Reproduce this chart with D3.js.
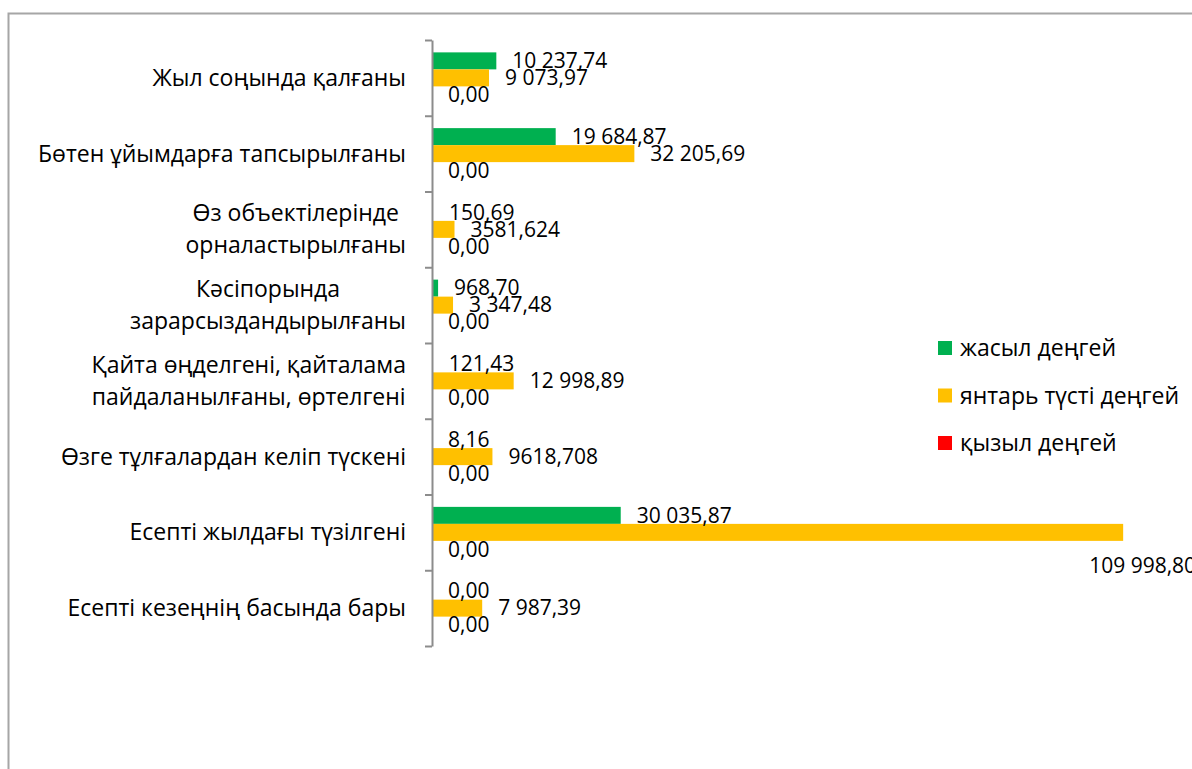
<!DOCTYPE html>
<html>
<head>
<meta charset="utf-8">
<script src="https://cdn.jsdelivr.net/npm/d3@7"></script>
<style>
  body { margin: 0; background: #fff; overflow: hidden; }
  text { font-family: "Open Sans", "Noto Sans", sans-serif; fill: #000; }
</style>
</head>
<body>
<svg id="chart" width="1192" height="769"></svg>
<script>
// categories, top to bottom as shown
var categories = [
  ["Жыл соңында қалғаны"],
  ["Бөтен ұйымдарға тапсырылғаны"],
  ["Өз объектілерінде", "орналастырылғаны"],
  ["Кәсіпорында", "зарарсыздандырылғаны"],
  ["Қайта өңделгені, қайталама", "пайдаланылғаны, өртелгені"],
  ["Өзге тұлғалардан келіп түскені"],
  ["Есепті жылдағы түзілгені"],
  ["Есепті кезеңнің басында бары"]
];
var seriesNames = ["жасыл деңгей", "янтарь түсті деңгей", "қызыл деңгей"];
var seriesColors = ["#00B050", "#FFC000", "#FF0000"];

var greenValues = [10237.74, 19684.87, 150.69, 968.70, 121.43, 8.16, 30035.87, 0];
var amberValues = [9073.97, 32205.69, 3581.624, 3347.48, 12998.89, 9618.708, 109998.80, 7987.39];
var redValues   = [0, 0, 0, 0, 0, 0, 0, 0];

var greenLabels = ["10 237,74", "19 684,87", "150,69", "968,70", "121,43", "8,16", "30 035,87", "0,00"];
var amberLabels = ["9 073,97", "32 205,69", "3581,624", "3 347,48", "12 998,89", "9618,708", "109 998,80", "7 987,39"];
var redLabels   = ["0,00", "0,00", "0,00", "0,00", "0,00", "0,00", "0,00", "0,00"];

var values = [greenValues, amberValues, redValues];
var labels = [greenLabels, amberLabels, redLabels];

var W = 1192, H = 769;
var svg = d3.select("#chart");

// outer frame
svg.append("rect")
  .attr("x", 8.5).attr("y", 13.5)
  .attr("width", 1400).attr("height", 1000)
  .attr("fill", "none")
  .attr("stroke", "#a6a6a6")
  .attr("stroke-width", 2);

var top_ = 40, bottom = 646, left = 432;

var idx = d3.range(categories.length);
var y = d3.scaleBand().domain(idx).range([top_, bottom]);
var x = d3.scaleLinear().domain([0, 120000]).range([left, 1186]);

var barH = 17;
var groupH = barH * seriesNames.length;

// bars
seriesNames.forEach(function (s, si) {
  svg.append("g").selectAll("rect")
    .data(values[si])
    .join("rect")
      .attr("x", x(0))
      .attr("y", function (d, i) { return y(i) + (y.bandwidth() - groupH) / 2 + si * barH; })
      .attr("width", function (d) { return x(d) - x(0); })
      .attr("height", barH)
      .attr("fill", seriesColors[si]);
});

// axis with ticks between categories
var yTicks = d3.scaleLinear().domain([0, categories.length]).range([top_, bottom]);
var axis = svg.append("g")
  .attr("transform", "translate(" + left + ",0)")
  .call(d3.axisLeft(yTicks).ticks(categories.length).tickSize(7).tickSizeOuter(0).tickFormat(""));
axis.select(".domain").attr("stroke", "#8c8c8c").attr("stroke-width", 2);
axis.selectAll(".tick line").attr("stroke", "#8c8c8c").attr("stroke-width", 2);

// data labels
var labelSize = 21;
seriesNames.forEach(function (s, si) {
  svg.append("g").selectAll("text")
    .data(values[si])
    .join("text")
      .attr("font-size", labelSize)
      .attr("dy", "0.35em")
      .text(function (d, i) { return labels[si][i]; })
      .each(function (d, i) {
        var t = d3.select(this);
        var cy = y(i) + (y.bandwidth() - groupH) / 2 + si * barH + barH / 2;
        var tx = x(d) + 16;
        var w = this.getComputedTextLength();
        if (tx + w > W) {       // no room at the end: drop below the bar
          tx = x(d) - 34;
          cy += 33;
        }
        t.attr("x", tx).attr("y", cy);
      });
});

// category labels
var catSize = 23, lineH = 32;
var catG = svg.append("g");
categories.forEach(function (lines, i) {
  var cy = y(i) + y.bandwidth() / 2;
  var g = catG.append("g");
  var tx = g.selectAll("text")
    .data(lines)
    .join("text")
      .attr("font-size", catSize)
      .attr("text-anchor", "middle")
      .attr("dy", "0.35em")
      .attr("y", function (d, k) { return cy + (k - (lines.length - 1) / 2) * lineH; })
      .text(function (d) { return d; });
  var maxW = d3.max(tx.nodes(), function (n) { return n.getComputedTextLength(); });
  tx.attr("x", left - 26 - maxW / 2);
});

// legend
var legend = svg.append("g").selectAll("g")
  .data(seriesNames)
  .join("g")
    .attr("transform", function (d, i) { return "translate(938," + (348 + i * 47.5) + ")"; });
legend.append("rect")
  .attr("x", 0).attr("y", -7)
  .attr("width", 14).attr("height", 14)
  .attr("fill", function (d, i) { return seriesColors[i]; });
legend.append("text")
  .attr("x", 22)
  .attr("dy", "0.35em")
  .attr("font-size", 23)
  .text(function (d) { return d; });
</script>
</body>
</html>
